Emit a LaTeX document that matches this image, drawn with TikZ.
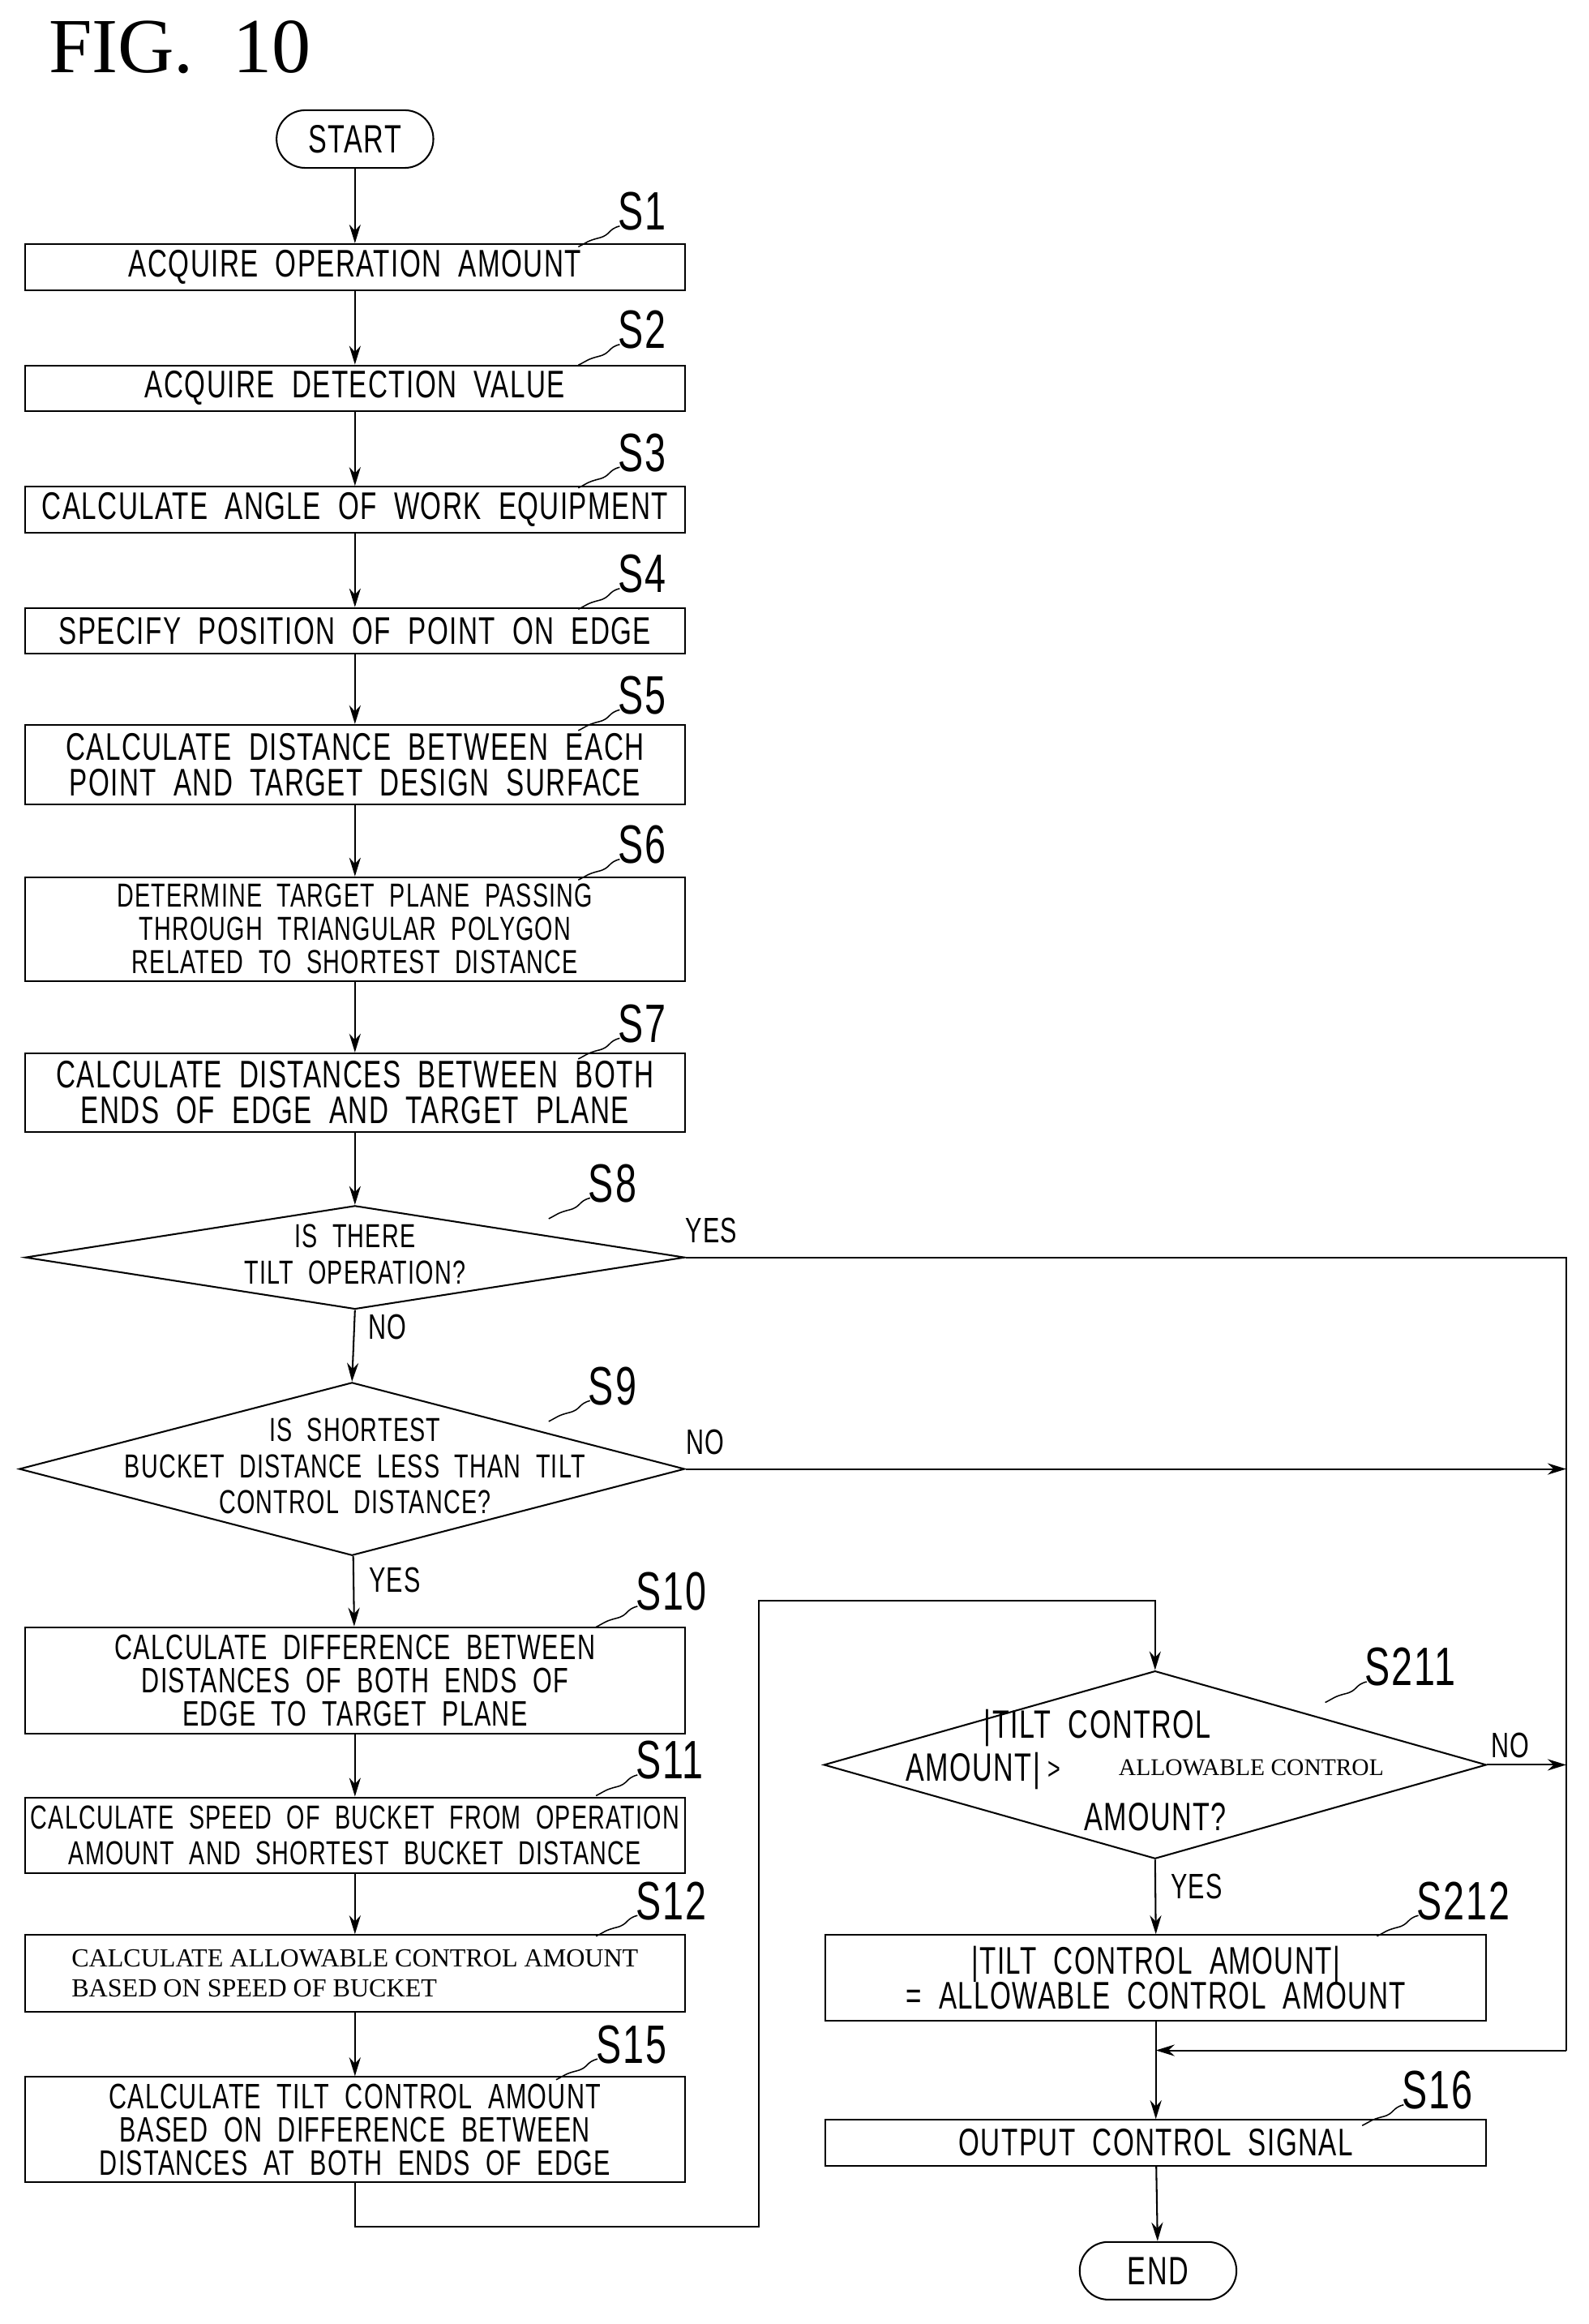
\documentclass[tikz,border=0pt]{standalone}
\usepackage{fontspec}
\setmainfont{Liberation Sans}[FakeStretch=0.7,LetterSpace=3,WordSpace=2]
\newfontfamily\serf{Liberation Serif}
\usetikzlibrary{arrows.meta,shapes.geometric}
\begin{document}
\begin{tikzpicture}[x=0.05cm,y=-0.05cm,line width=1.6pt,
 box/.style={draw,rectangle,minimum width=22.3cm,inner sep=0pt,align=center,font=\fontsize{37}{34}\selectfont},
 term/.style={draw,rounded corners=0.97cm,minimum width=5.3cm,minimum height=1.95cm,inner sep=0pt,font=\fontsize{38}{44}\selectfont},
 dia/.style={draw,diamond,inner sep=0pt},
 dtext/.style={align=center,font=\fontsize{32}{35}\selectfont},
 lab/.style={font=\fontsize{52}{56}\selectfont},
 yn/.style={font=\fontsize{34}{40}\selectfont},
 arr/.style={-{Stealth[length=18pt,width=11pt]}}]
\useasboundingbox (0,0) rectangle (1074,1571);
\node[anchor=west,font=\serf\fontsize{75}{80}\selectfont] (fig) at (30,32) {FIG.\ \ 10};
\node[term] (start) at (240,94) {START};
\node[box,minimum height=1.55cm] (s1) at (240,180.5) {ACQUIRE OPERATION AMOUNT};
\node[box,minimum height=1.55cm] (s2) at (240,262.5) {ACQUIRE DETECTION VALUE};
\node[box,minimum height=1.55cm] (s3) at (240,344.5) {CALCULATE ANGLE OF WORK EQUIPMENT};
\node[box,minimum height=1.55cm] (s4) at (240,426.5) {SPECIFY POSITION OF POINT ON EDGE};
\node[box,minimum height=2.7cm] (s5) at (240,517) {CALCULATE DISTANCE BETWEEN EACH\\POINT AND TARGET DESIGN SURFACE};
\node[box,minimum height=3.5cm,font=\fontsize{32}{32}\selectfont] (s6) at (240,628) {DETERMINE TARGET PLANE PASSING\\THROUGH TRIANGULAR POLYGON\\RELATED TO SHORTEST DISTANCE};
\node[box,minimum height=2.65cm] (s7) at (240,738.5) {CALCULATE DISTANCES BETWEEN BOTH\\ENDS OF EDGE AND TARGET PLANE};
\node[dia,minimum width=22.3cm,minimum height=3.5cm] (s8) at (240,850) {};
\node[dtext] (s8t) at (240,848) {IS THERE\\TILT OPERATION?};
\node[dia,minimum width=22.5cm,minimum height=5.85cm] (s9) at (238,993) {};
\node[dtext] (s9t) at (240,991) {IS SHORTEST\\BUCKET DISTANCE LESS THAN TILT\\CONTROL DISTANCE?};
\node[box,minimum height=3.6cm,font=\fontsize{34}{32}\selectfont] (s10) at (240,1136) {CALCULATE DIFFERENCE BETWEEN\\DISTANCES OF BOTH ENDS OF\\EDGE TO TARGET PLANE};
\node[box,minimum height=2.55cm,font=\fontsize{32}{34}\selectfont] (s11) at (240,1240.5) {CALCULATE SPEED OF BUCKET FROM OPERATION\\AMOUNT AND SHORTEST BUCKET DISTANCE};
\node[box,minimum height=2.6cm,align=left,font=\serf\fontsize{25}{29}\selectfont] (s12) at (240,1334) {CALCULATE ALLOWABLE CONTROL AMOUNT\\BASED ON SPEED OF BUCKET};
\node[box,minimum height=3.55cm,font=\fontsize{34}{32}\selectfont] (s15) at (240,1439.5) {CALCULATE TILT CONTROL AMOUNT\\BASED ON DIFFERENCE BETWEEN\\DISTANCES AT BOTH ENDS OF EDGE};
\node[dia,minimum width=22.4cm,minimum height=6.35cm] (s211) at (781,1193) {};
\node[font=\fontsize{38}{44}\selectfont] (t1) at (742,1168) {|TILT CONTROL};
\node[font=\fontsize{38}{44}\selectfont] (t2) at (658,1197) {AMOUNT|};
\node[font=\fontsize{30}{40}\selectfont] (t3) at (713,1197) {>};
\node[font=\serf\fontsize{23}{30}\selectfont] (t4) at (846,1195) {ALLOWABLE CONTROL};
\node[font=\fontsize{38}{44}\selectfont] (t5) at (781,1228) {AMOUNT?};
\node[box,minimum width=22.35cm,minimum height=2.9cm] (s212) at (781.5,1337) {|TILT CONTROL AMOUNT|\\= ALLOWABLE CONTROL AMOUNT};
\node[box,minimum width=22.35cm,minimum height=1.55cm] (s16) at (781.5,1448.5) {OUTPUT CONTROL SIGNAL};
\node[term] (end) at (783,1535) {END};
% step labels
\foreach \n/\x/\y/\t in {l1/435/143/S1,l2/435/223/S2,l3/435/306/S3,l4/435/388/S4,l5/435/470/S5,l6/435/571/S6,l7/435/692/S7,l8/415/800/S8,l9/415/937/S9,l10/447/1076/S10,l11/447/1190/S11,l12/447/1285/S12,l15/420/1382/S15,l211/940/1127/S211,l212/975/1285/S212,l16/965/1413/S16}{
 \node[lab,anchor=west] (\n) at (\x-20,\y) {\t};
 \draw[line width=1.2pt] (\n.south west) ++(4,-6) .. controls +(-8,2) and +(8,-2) .. ++(-14,8) .. controls +(-8,2) and +(6,-3) .. ++(-14,6);
}
% connectors
\foreach \a/\b in {start/s1,s1/s2,s2/s3,s3/s4,s4/s5,s5/s6,s6/s7,s7/s8,s9/s10,s10/s11,s11/s12,s12/s15,s16/end}
 \draw[arr] (\a) -- (\b);
\draw[arr] (s8.south) -- (s9.north);
\coordinate (r8) at (1059,850);
\coordinate (r9) at (1059,993);
\coordinate (r211) at (1059,1193);
\coordinate (rb) at (1059,1386);
\coordinate (mg) at (781.5,1386);
\coordinate (b1) at (240,1505);
\coordinate (b2) at (513,1505);
\coordinate (b3) at (513,1082);
\coordinate (b4) at (781,1082);
\draw (s8.east) -- (r8) -- (rb);
\draw[arr] (rb) -- (mg);
\draw[arr] (s9.east) -- (r9);
\draw[arr] (s211.east) -- (r211);
\draw[arr] (s211.south) -- (s212.north);
\draw[arr] (s212.south) -- (s16.north);
\draw[arr] (s15.south) -- (b1) -- (b2) -- (b3) -- (b4) -- (s211.north);
\node[yn] (y8) at (481,832) {YES};
\node[yn] (n8) at (262,897) {NO};
\node[yn] (n9) at (477,975) {NO};
\node[yn] (y9) at (267,1068) {YES};
\node[yn] (n211) at (1021,1180) {NO};
\node[yn] (y211) at (809,1275) {YES};
\end{tikzpicture}
\end{document}
